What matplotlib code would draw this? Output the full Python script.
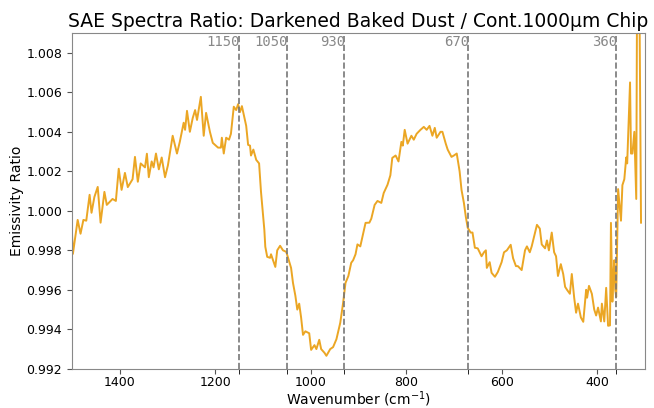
import numpy as np
import matplotlib.pyplot as plt

# ratio spectrum (wavenumber in cm^-1, emissivity ratio)
wavenumber = [
    1500, 1498, 1488, 1482, 1476, 1470, 1463, 1459, 1453, 1446, 1440, 1432, 1427, 1415, 1408,
    1402, 1396, 1389, 1383, 1373, 1368, 1362, 1356, 1347, 1343, 1339, 1333, 1329, 1324, 1318,
    1312, 1305, 1299, 1289, 1280, 1274, 1266, 1263, 1259, 1253, 1247, 1242, 1238, 1230, 1224,
    1219, 1211, 1205, 1194, 1188, 1186, 1182, 1177, 1171, 1167, 1161, 1156, 1152, 1148, 1144,
    1135, 1131, 1127, 1125, 1120, 1114, 1108, 1104, 1102, 1097, 1095, 1091, 1085, 1083, 1074,
    1070, 1064, 1058, 1051, 1047, 1041, 1037, 1032, 1028, 1024, 1020, 1016, 1011, 1003, 999,
    992, 988, 982, 978, 971, 967, 959, 953, 946, 938, 932, 927, 921, 915, 911,
    906, 902, 896, 892, 885, 877, 873, 866, 860, 852, 847, 839, 833, 829, 822,
    816, 810, 807, 803, 797, 789, 784, 778, 770, 763, 757, 751, 745, 740, 736,
    728, 724, 717, 713, 705, 700, 694, 688, 684, 679, 675, 671, 665, 661, 656,
    650, 646, 642, 637, 633, 631, 625, 621, 614, 608, 600, 595, 589, 581, 576,
    570, 566, 558, 551, 547, 541, 537, 530, 526, 520, 516, 509, 505, 501, 495,
    490, 486, 482, 476, 471, 467, 463, 457, 453, 448, 444, 440, 434, 429, 423,
    421, 417, 411, 406, 402, 398, 392, 390, 385, 381, 377, 373, 371, 368, 366,
    364, 362, 360, 356, 350, 347, 343, 339, 337, 331, 329, 326, 322, 318, 316,
    312, 308,
]
ratio = [
    0.99889, 0.99782, 0.99954, 0.99884, 0.99954, 0.99950, 1.00081, 0.99990, 1.00070, 1.00121,
    0.99940, 1.00096, 1.00030, 1.00060, 1.00050, 1.00213, 1.00106, 1.00192, 1.00120, 1.00160,
    1.00273, 1.00147, 1.00240, 1.00220, 1.00289, 1.00170, 1.00250, 1.00220, 1.00290, 1.00210,
    1.00270, 1.00170, 1.00230, 1.00380, 1.00290, 1.00350, 1.00446, 1.00410, 1.00506, 1.00400,
    1.00470, 1.00510, 1.00460, 1.00577, 1.00380, 1.00496, 1.00400, 1.00344, 1.00320, 1.00320,
    1.00370, 1.00290, 1.00370, 1.00360, 1.00390, 1.00527, 1.00510, 1.00540, 1.00500, 1.00530,
    1.00430, 1.00334, 1.00330, 1.00280, 1.00310, 1.00258, 1.00240, 1.00096, 1.00040, 0.99904,
    0.99818, 0.99767, 0.99762, 0.99780, 0.99716, 0.99800, 0.99823, 0.99800, 0.99792, 0.99760,
    0.99711, 0.99635, 0.99570, 0.99500, 0.99530, 0.99460, 0.99372, 0.99390, 0.99380, 0.99296,
    0.99320, 0.99300, 0.99347, 0.99300, 0.99281, 0.99266, 0.99300, 0.99310, 0.99350, 0.99433,
    0.99534, 0.99635, 0.99670, 0.99737, 0.99750, 0.99780, 0.99830, 0.99820, 0.99863, 0.99939,
    0.99940, 0.99960, 1.00030, 1.00050, 1.00040, 1.00090, 1.00132, 1.00180, 1.00268, 1.00280,
    1.00250, 1.00349, 1.00330, 1.00410, 1.00340, 1.00380, 1.00360, 1.00390, 1.00410, 1.00425,
    1.00410, 1.00430, 1.00380, 1.00420, 1.00370, 1.00400, 1.00400, 1.00340, 1.00310, 1.00273,
    1.00280, 1.00290, 1.00200, 1.00106, 1.00040, 0.99970, 0.99914, 0.99890, 0.99890, 0.99813,
    0.99810, 0.99790, 0.99770, 0.99790, 0.99800, 0.99711, 0.99740, 0.99686, 0.99666, 0.99690,
    0.99740, 0.99790, 0.99800, 0.99828, 0.99760, 0.99720, 0.99720, 0.99700, 0.99800, 0.99820,
    0.99790, 0.99820, 0.99889, 0.99929, 0.99910, 0.99830, 0.99810, 0.99850, 0.99800, 0.99890,
    0.99790, 0.99770, 0.99670, 0.99730, 0.99680, 0.99615, 0.99600, 0.99580, 0.99680, 0.99560,
    0.99484, 0.99530, 0.99460, 0.99438, 0.99600, 0.99560, 0.99620, 0.99580, 0.99500, 0.99470,
    0.99510, 0.99440, 0.99530, 0.99440, 0.99610, 0.99418, 0.99420, 0.99939, 0.99540, 0.99670,
    0.99750, 0.99600, 0.99565, 1.00110, 0.99950, 1.00130, 1.00160, 1.00270, 1.00240, 1.00650,
    1.00290, 1.00290, 1.00400, 1.00060, 1.01300, 1.01300, 0.99940,
]

# band positions marked on the plot
bands = [1150, 1050, 930, 670, 360]

fig = plt.figure(figsize=(6.54, 4.08), dpi=100)
ax = fig.add_axes([0.110, 0.096, 0.876, 0.823])

ax.plot(wavenumber, ratio, color='#EBA624', linewidth=1.4)

for b in bands:
    ax.axvline(b, color='#777777', linestyle='--', linewidth=1.2)
    ax.text(b - 2, 1.0089, str(b), ha='right', va='top', color='#888888',
            family='DejaVu Sans Mono', fontsize=10)

ax.set_xlim(1500, 300)
ax.set_ylim(0.992, 1.009)
ax.set_xticks([1400, 1200, 1000, 800, 600, 400])
ax.set_xticks(bands, minor=True)
ax.set_yticks(np.arange(0.992, 1.0085, 0.002))
ax.yaxis.set_major_formatter(plt.FormatStrFormatter('%.3f'))
ax.tick_params(axis='both', labelsize=9, color='#555555')
ax.tick_params(axis='x', pad=2)
ax.tick_params(axis='x', which='minor', length=3.5)

for s in ax.spines.values():
    s.set_color('#888888')

ax.set_title('SAE Spectra Ratio: Darkened Baked Dust / Cont.1000µm Chip', fontsize=13.5, pad=4)
ax.set_xlabel('Wavenumber (cm$^{-1}$)', fontsize=10, labelpad=0)
ax.set_ylabel('Emissivity Ratio', fontsize=10, labelpad=2)

fig.savefig('out.png', dpi=100)
